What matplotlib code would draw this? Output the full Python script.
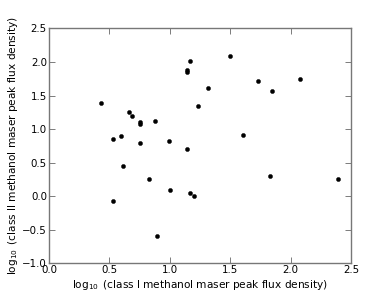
import matplotlib
matplotlib.use("Agg")
import matplotlib.pyplot as plt

class1 = [0.43, 0.53, 0.53, 0.60, 0.61, 0.66, 0.69, 0.75, 0.75, 0.75,
          0.83, 0.88, 0.89, 0.99, 1.00, 1.14, 1.14, 1.14, 1.17, 1.17,
          1.20, 1.23, 1.32, 1.50, 1.61, 1.73, 1.83, 1.85, 2.08, 2.39]
class2 = [1.39, 0.85, -0.07, 0.89, 0.45, 1.26, 1.20, 1.10, 1.07, 0.79,
          0.26, 1.12, -0.60, 0.82, 0.09, 1.88, 1.85, 0.70, 2.02, 0.05,
          0.00, 1.34, 1.61, 2.09, 0.91, 1.71, 0.30, 1.57, 1.74, 0.25]
xticks = [0.0, 0.5, 1.0, 1.5, 2.0, 2.5]
yticks = [-1.0, -0.5, 0.0, 0.5, 1.0, 1.5, 2.0, 2.5]

fig = plt.figure(figsize=(3.9, 2.93), dpi=100)
ax = fig.add_axes([0.1256, 0.1014, 0.7744, 0.8016])
ax.scatter(class1, class2, s=9, c='black', edgecolors='black', linewidths=0.3, zorder=3)
ax.set_xlim(0, 2.5)
ax.set_ylim(-1.0, 2.5)
ax.set_xticks(xticks)
ax.set_yticks(yticks)
ax.set_xticklabels([f"{t:.1f}" for t in xticks])
ax.set_yticklabels(["\u22121.0", "\u22120.5", "0.0", "0.5", "1.0", "1.5", "2.0", "2.5"])
ax.tick_params(direction='in', top=True, right=True, length=4, width=0.6,
               color='#666666', labelsize=7.4, pad=1.5)
for sp in ax.spines.values():
    sp.set_color('#777777')
    sp.set_linewidth(1.0)
ax.set_xlabel(r"$\log_{10}$ (class I methanol maser peak flux density)", fontsize=7.6, labelpad=0)
ax.set_ylabel(r"$\log_{10}$ (class II methanol maser peak flux density)", fontsize=7.6, labelpad=0)
ax.xaxis.set_label_coords(0.5, -0.062)
ax.yaxis.set_label_coords(-0.097, 0.5)
fig.savefig("out.png", dpi=100)
